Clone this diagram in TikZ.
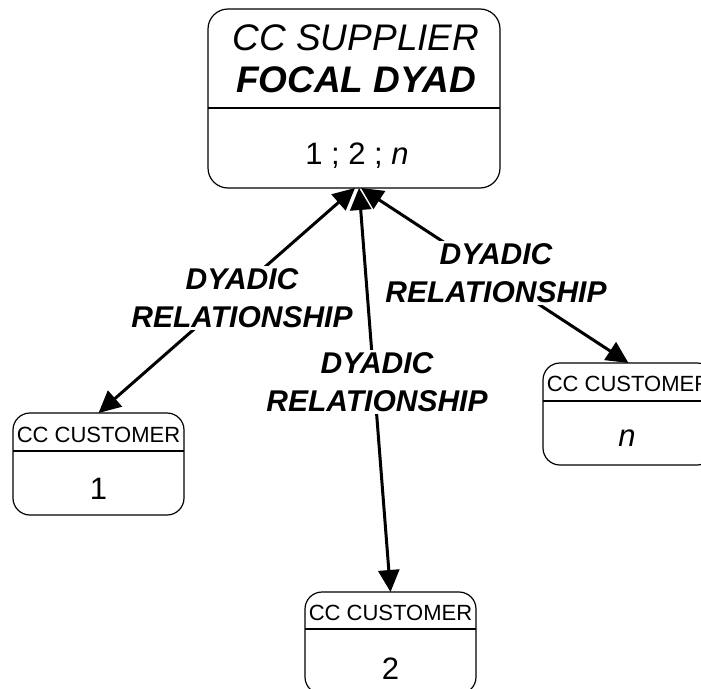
\documentclass[tikz,border=0pt]{standalone}
\usepackage{fontspec}
\setmainfont{Liberation Sans}
\usetikzlibrary{arrows.meta}
\begin{document}
\begin{tikzpicture}[x=1pt,y=-1pt,
  box/.style={draw, line width=1.2pt, inner sep=0pt, outer sep=0pt},
  sbox/.style={box, rounded corners=20pt, minimum width=292pt, minimum height=179pt},
  cbox/.style={box, rounded corners=17pt, minimum width=171pt, minimum height=102pt},
  divider/.style={line width=1.2pt},
  hdr/.style={inner sep=0pt, anchor=base, font=\fontsize{22}{24}\selectfont},
  num/.style={inner sep=0pt, anchor=base, font=\fontsize{31}{34}\selectfont},
  stxt/.style={inner sep=0pt, anchor=base, font=\fontsize{37}{40}\selectfont\itshape},
  lbl/.style={fill=white, align=center, inner sep=2pt, font=\fontsize{30}{38}\selectfont\bfseries\itshape},
  conn/.style={line width=3pt, {Triangle[length=22pt,width=21pt]}-{Triangle[length=22pt,width=21pt]}}
]
\useasboundingbox (0,0) rectangle (701,688);

% supplier box
\node[sbox] (sup) at (354,98.5) {};
\draw[divider] (sup.west |- 0,108) -- (sup.east |- 0,108);
\node[stxt] (supt1) at (356,50) {CC SUPPLIER};
\node[stxt,font=\fontsize{37}{40}\selectfont\bfseries\itshape] (supt2) at (356,92) {FOCAL DYAD};
\node[num] (supt3) at (357,164) {1 ; 2 ; \textit{n}};

% customer 1
\node[cbox] (c1) at (98.5,464) {};
\draw[divider] (c1.west |- 0,451) -- (c1.east |- 0,451);
\node[hdr] (c1h) at (98.5,442) {CC CUSTOMER};
\node[num] (c1n) at (98.5,499) {1};

% customer n
\node[cbox] (cn) at (628.5,414) {};
\draw[divider] (cn.west |- 0,401) -- (cn.east |- 0,401);
\node[hdr] (cnh) at (628.5,391) {CC CUSTOMER};
\node[num] (cnn) at (627,446) {\textit{n}};

% customer 2
\node[cbox] (c2) at (390.5,643) {};
\draw[divider] (c2.west |- 0,629) -- (c2.east |- 0,629);
\node[hdr] (c2h) at (390.5,620) {CC CUSTOMER};
\node[num] (c2n) at (390.5,679) {2};

% connectors
\coordinate (tl) at ([xshift=1pt]sup.south);
\coordinate (tm) at ([xshift=5pt]sup.south);
\coordinate (tr) at ([xshift=7pt]sup.south);
\draw[conn] (tl) -- (c1.north);
\draw[conn] (tm) -- (c2.north);
\draw[conn] (tr) -- (cn.north);

% labels
\node[lbl] (l1) at (242,298) {DYADIC\\RELATIONSHIP};
\node[lbl] (l2) at (377,382) {DYADIC\\RELATIONSHIP};
\node[lbl] (l3) at (496,273) {DYADIC\\RELATIONSHIP};
\end{tikzpicture}
\end{document}
